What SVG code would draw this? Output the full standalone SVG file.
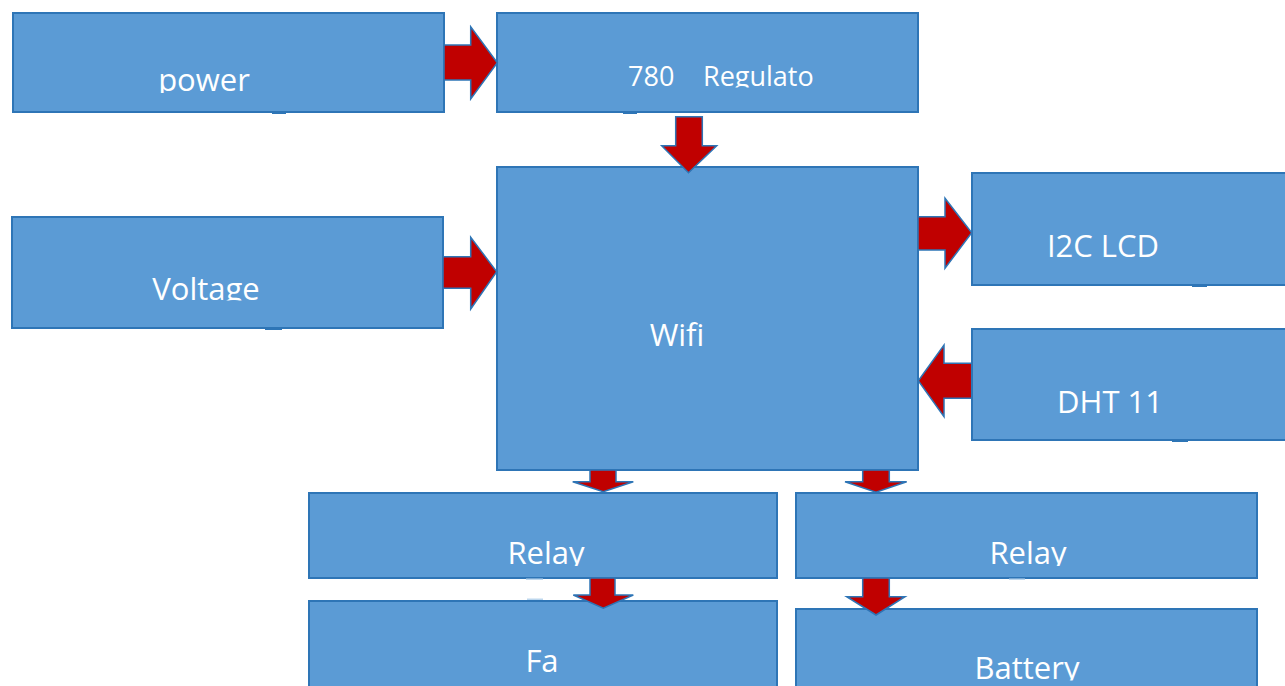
<svg xmlns="http://www.w3.org/2000/svg" width="1285" height="686" viewBox="0 0 1285 686">
  <style>
    .box { fill: #5B9BD5; stroke: #2E75B6; stroke-width: 2; }
    .tab { fill: #2E75B6; }
    .ltab { fill: #BDD7EE; }
    .arrow { fill: #C00000; stroke: #2E75B6; stroke-width: 1.5; stroke-linejoin: miter; }
    .lbl { font-family: "Open Sans", "Noto Sans", sans-serif; font-size: 31px; fill: #FFFFFF; text-anchor: middle; }
  </style>
  <defs>
    <clipPath id="cPower"><rect x="0" y="0" width="500" height="93"/></clipPath>
    <clipPath id="cReg"><rect x="500" y="0" width="420" height="87.5"/></clipPath>
    <clipPath id="cVolt"><rect x="0" y="200" width="500" height="100.5"/></clipPath>
    <clipPath id="cRelay"><rect x="300" y="490" width="980" height="76"/></clipPath>
    <clipPath id="cBatt"><rect x="790" y="600" width="480" height="80.5"/></clipPath>
  </defs>
  <rect width="1285" height="686" fill="#FFFFFF"/>

  <g id="power">
    <rect class="box" x="13" y="13" width="431" height="99"/>
    <rect class="tab" x="272" y="112" width="14" height="2"/>
    <text class="lbl" x="204" y="90.5" clip-path="url(#cPower)">power</text>
  </g>
  <g id="regulator">
    <rect class="box" x="497" y="13" width="421" height="99"/>
    <rect class="tab" x="623" y="112" width="14" height="2"/>
    <text class="lbl" y="86" clip-path="url(#cReg)" style="text-anchor:start;font-size:27px"><tspan x="628">780</tspan><tspan x="703">Regulato</tspan></text>
  </g>
  <g id="voltage">
    <rect class="box" x="12" y="217" width="431" height="111"/>
    <rect class="tab" x="265" y="328" width="17" height="2"/>
    <text class="lbl" x="206" y="300" clip-path="url(#cVolt)">Voltage</text>
  </g>
  <g id="wifi">
    <rect class="box" x="497" y="167" width="421" height="303"/>
    <text class="lbl" x="677" y="346">Wifi</text>
  </g>
  <g id="lcd">
    <rect class="box" x="972" y="173" width="320" height="112"/>
    <rect class="tab" x="1192" y="285" width="15" height="2"/>
    <text class="lbl" x="1103" y="257">I2C LCD</text>
  </g>
  <g id="dht">
    <rect class="box" x="972" y="329" width="320" height="111"/>
    <rect class="tab" x="1172" y="440" width="16" height="2"/>
    <text class="lbl" x="1110" y="413">DHT 11</text>
  </g>
  <g id="relay1">
    <rect class="box" x="309" y="493" width="468" height="85"/>
    <rect class="ltab" x="526" y="578.5" width="17" height="1.5"/>
    <text class="lbl" x="546" y="564" clip-path="url(#cRelay)">Relay</text>
  </g>
  <g id="relay2">
    <rect class="box" x="796" y="493" width="461" height="85"/>
    <rect class="ltab" x="1009" y="578.5" width="16" height="1.5"/>
    <text class="lbl" x="1028" y="564" clip-path="url(#cRelay)">Relay</text>
  </g>
  <g id="fan">
    <rect class="box" x="309" y="601" width="468" height="100"/>
    <rect class="ltab" x="527" y="598.5" width="16" height="1.5"/>
    <text class="lbl" x="542" y="672">Fa</text>
  </g>
  <g id="battery">
    <rect class="box" x="796" y="609" width="461" height="100"/>
    <text class="lbl" x="1027" y="679" clip-path="url(#cBatt)">Battery</text>
  </g>

  <g id="connectors">
    <path class="arrow" d="M444,45 H470.7 V26.7 L497.3,62.7 L470.7,99 V80 H444 Z"/>
    <path class="arrow" d="M675.7,116.7 H702.3 V145.7 H716.7 L688.5,172.7 L661.7,145.7 H675.7 Z"/>
    <path class="arrow" d="M443,256.7 H470.7 V237.3 L496.7,271.7 L470.7,309 V288.3 H443 Z"/>
    <path class="arrow" d="M918,216.7 H945 V198.3 L971.7,232.7 L945,268.3 V250 H918 Z"/>
    <path class="arrow" d="M971.7,363.3 H944 V345 L918.3,380.7 L944,416.7 V398.3 H971.7 Z"/>
    <path class="arrow" d="M590,470 V481.7 H572.7 L603.3,491.7 L633.3,481.7 H616 V470 Z"/>
    <path class="arrow" d="M590,578 V595 H573.3 L603.3,608.3 L633.3,595 H615 V578 Z"/>
    <path class="arrow" d="M862.7,470 V481.7 H845 L876,492.3 L906.7,481.7 H889.3 V470 Z"/>
    <path class="arrow" d="M862.7,578 V596.7 H846.7 L876,615 L905,596.7 H889.3 V578 Z"/>
  </g>
</svg>
